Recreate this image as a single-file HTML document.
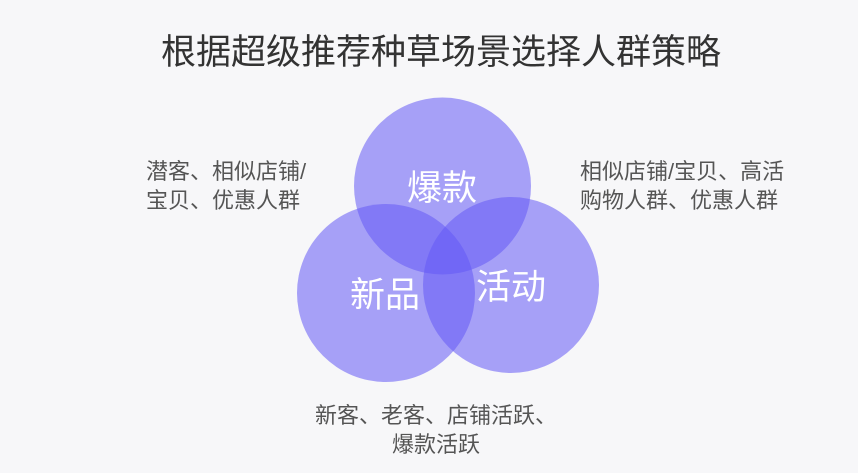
<!DOCTYPE html>
<html><head><meta charset="utf-8"><style>
body{margin:0;width:858px;height:473px;background:#f7f7f9;overflow:hidden;position:relative;font-family:"Liberation Sans","Noto Sans CJK SC",sans-serif}
.t{position:absolute;white-space:nowrap}
</style></head><body>
<div class="t" style="left:0;width:882px;text-align:center;top:24px;font-size:35px;color:#333">根据超级推荐种草场景选择人群策略</div>
<svg width="858" height="473" style="position:absolute;left:0;top:0">
<g fill="rgb(100,90,245)" fill-opacity="0.55">
<circle cx="442.5" cy="186" r="88.5"/>
<circle cx="386" cy="293" r="89"/>
<circle cx="511" cy="285" r="88"/>
</g>
<g fill="#fff" font-size="35" font-family="Liberation Sans, Noto Sans CJK SC, sans-serif" text-anchor="middle">
<text x="442" y="200">爆款</text>
<text x="385" y="307">新品</text>
<text x="511" y="299">活动</text>
</g>
</svg>
<div class="t" style="left:146px;top:157px;font-size:22px;line-height:29px;color:#555">潜客、相似店铺/<br>宝贝、优惠人群</div>
<div class="t" style="left:580px;top:157px;font-size:22px;line-height:29px;color:#555">相似店铺/宝贝、高活<br>购物人群、优惠人群</div>
<div class="t" style="left:296px;top:401px;width:280px;text-align:center;font-size:22px;line-height:29px;color:#555">新客、老客、店铺活跃、<br>爆款活跃</div>
</body></html>
